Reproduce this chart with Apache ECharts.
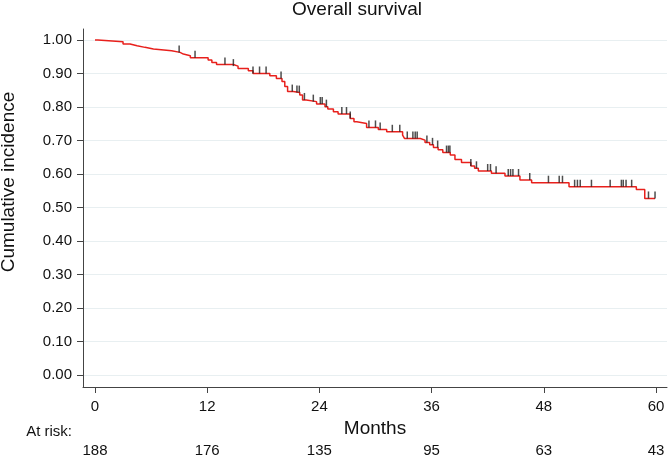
<!DOCTYPE html>
<html>
<head>
<meta charset="utf-8">
<script src="https://cdn.jsdelivr.net/npm/echarts@6/dist/echarts.min.js"></script>
<style>
html,body{margin:0;padding:0;background:#fff;}
#chart{width:670px;height:459px;}
</style>
</head>
<body>
<div id="chart"></div>
<script>
// Kaplan-Meier step curve: event times (months) and survival after each step
const months = [0, 0.3, 3.0, 3.75, 4.5, 5.35, 6.25, 8.2, 9.1, 9.45, 10.2, 12.1, 12.5, 13.0, 14.8, 15.3, 16.4, 16.9, 18.7, 19.4, 20.0, 20.3, 20.6, 21.2, 21.9, 22.2, 22.6, 23.7, 24.6, 24.9, 25.5, 26.0, 27.3, 27.7, 28.0, 29.05, 30.3, 31.2, 32.9, 33.1, 34.8, 35.3, 35.8, 36.2, 36.7, 37.2, 38.0, 38.5, 39.2, 40.2, 40.6, 41.0, 42.4, 43.85, 45.45, 46.7, 50.7, 57.9, 58.8, 59.9];
const survival = [1.000, 0.995, 0.988, 0.983, 0.978, 0.973, 0.968, 0.963, 0.958, 0.953, 0.947, 0.940, 0.933, 0.927, 0.922, 0.915, 0.908, 0.900, 0.893, 0.885, 0.876, 0.861, 0.846, 0.843, 0.836, 0.821, 0.816, 0.809, 0.801, 0.794, 0.786, 0.779, 0.766, 0.756, 0.751, 0.739, 0.733, 0.726, 0.716, 0.706, 0.701, 0.694, 0.687, 0.679, 0.672, 0.664, 0.657, 0.643, 0.634, 0.624, 0.617, 0.609, 0.602, 0.594, 0.582, 0.574, 0.562, 0.554, 0.527, 0.527];
// Censoring times (months)
const censorMonths = [9.0, 10.7, 13.9, 14.8, 16.9, 17.6, 18.3, 19.9, 21.1, 21.6, 21.85, 22.4, 23.35, 24.1, 24.3, 24.75, 26.4, 26.9, 27.3, 29.3, 30.0, 30.5, 31.8, 32.6, 33.4, 34.0, 34.25, 34.46, 35.5, 36.1, 36.65, 37.6, 37.8, 37.96, 40.2, 40.8, 42.0, 42.3, 42.9, 44.2, 44.45, 44.7, 45.3, 46.5, 48.5, 49.65, 50.0, 51.3, 51.6, 51.9, 53.1, 55.1, 56.3, 56.5, 56.8, 57.4, 59.2, 59.9];
const xTicks = [0, 12, 24, 36, 48, 60];
const atRisk = [188, 176, 135, 95, 63, 43];
const yTicks = [0, 0.1, 0.2, 0.3, 0.4, 0.5, 0.6, 0.7, 0.8, 0.9, 1.0];

function survAt(t) {
  let s = survival[0];
  for (let i = 0; i < months.length; i++) { if (months[i] <= t) s = survival[i]; }
  return s;
}

const FONT = 'Liberation Sans, Arial, Helvetica, sans-serif';
const TXT = '#111';
const AX = '#444';

const chart = echarts.init(document.getElementById('chart'), null, {renderer: 'canvas'});
chart.setOption({
  animation: false,
  backgroundColor: '#fff',
  grid: {left: 83, right: 3, top: 29, bottom: 72, containLabel: false},
  graphic: [
    {type: 'text', x: 357, y: 10, style: {text: 'Overall survival', font: '19px ' + FONT, fill: TXT, align: 'center', verticalAlign: 'middle'}},
    {type: 'text', x: 9, y: 182, rotation: Math.PI / 2, style: {text: 'Cumulative incidence', font: '19px ' + FONT, fill: TXT, align: 'center', verticalAlign: 'middle'}},
    {type: 'text', x: 72, y: 432, style: {text: 'At risk:', font: '15px ' + FONT, fill: TXT, align: 'right', verticalAlign: 'middle'}}
  ],
  xAxis: [{
    type: 'value', min: -1.283, max: 61.18,
    name: 'Months', nameLocation: 'middle', nameGap: 26,
    nameTextStyle: {fontFamily: FONT, fontSize: 19, color: TXT},
    axisLine: {show: true, onZero: false, lineStyle: {color: AX, width: 1}},
    axisTick: {show: true, length: 6, customValues: xTicks, lineStyle: {color: AX, width: 1}},
    axisLabel: {customValues: xTicks, fontFamily: FONT, fontSize: 15, color: TXT, margin: 12},
    splitLine: {show: false}
  }, {
    type: 'value', min: -1.283, max: 61.18, position: 'bottom', offset: 45,
    axisLine: {show: false}, axisTick: {show: false},
    axisLabel: {customValues: xTicks, fontFamily: FONT, fontSize: 15, color: TXT, margin: 11,
      formatter: v => String(atRisk[xTicks.indexOf(Math.round(v))])},
    splitLine: {show: false}
  }],
  yAxis: {
    type: 'value', min: -0.0358, max: 1.0328,
    axisLine: {show: true, onZero: false, lineStyle: {color: AX, width: 1}},
    axisTick: {show: true, length: 6, customValues: yTicks, lineStyle: {color: AX, width: 1}},
    axisLabel: {customValues: yTicks, fontFamily: FONT, fontSize: 15, color: TXT, margin: 11,
      formatter: v => v.toFixed(2)},
    splitLine: {show: true, lineStyle: {color: '#e8eff1', width: 1}}
  },
  series: [{
    type: 'line', step: 'end', showSymbol: false, symbol: 'none', z: 3,
    lineStyle: {color: '#e8201c', width: 1.5},
    data: months.map((m, i) => [m, survival[i]])
  }, {
    type: 'scatter', z: 4, symbol: 'rect', symbolSize: [1.5, 7], symbolOffset: [0, -3.5],
    itemStyle: {color: '#222'},
    data: censorMonths.map(t => [t, survAt(t)])
  }]
});
</script>
</body>
</html>
